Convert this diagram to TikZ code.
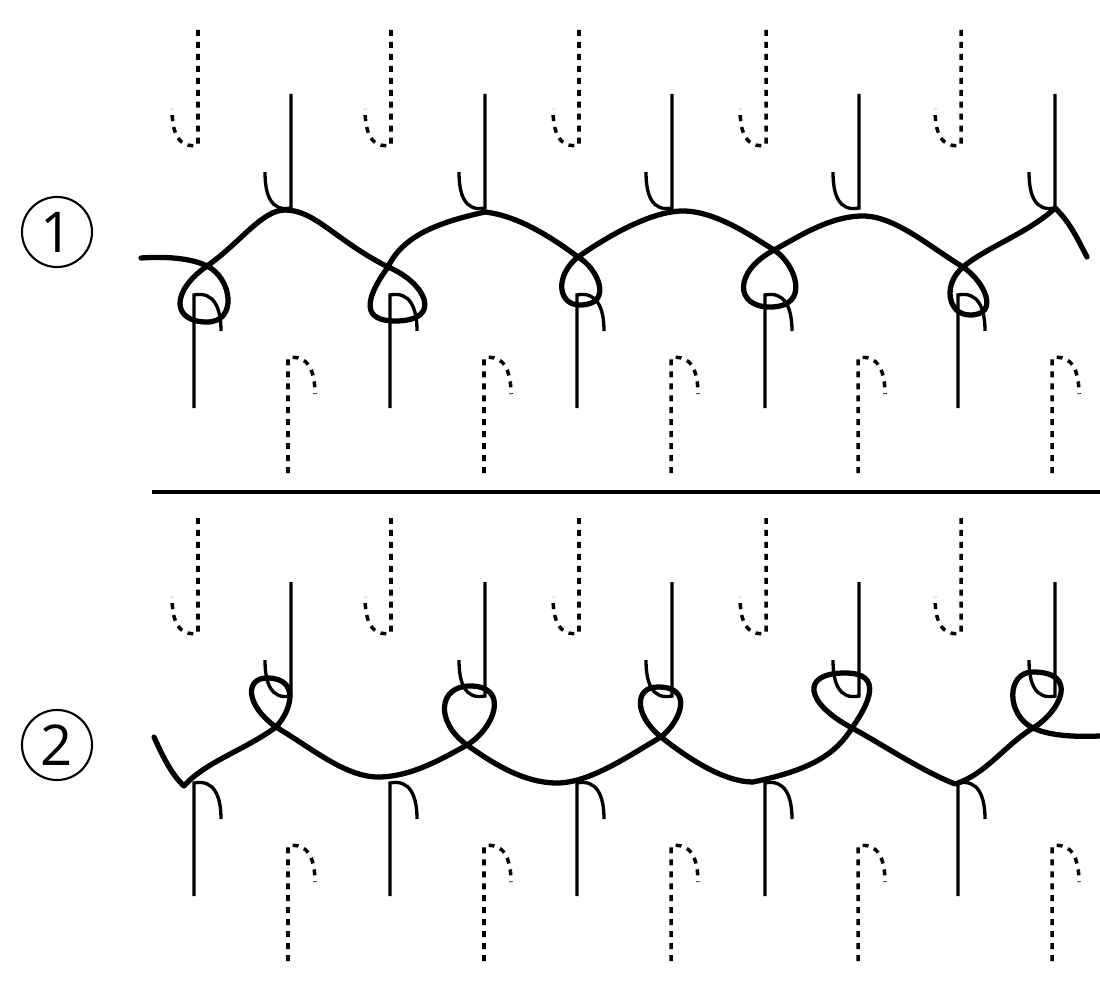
\documentclass[tikz,border=0pt]{standalone}
\usepackage{fontspec}
\setmainfont{Open Sans}
\tikzset{
  strand/.style={line width=1.5pt,line join=round,line cap=round},
  thread/.style={line width=0.95pt},
  ghost/.style={line width=1pt,dash pattern=on 1.7pt off 1.7pt},
  rownum/.style={draw,circle,line width=0.6pt,minimum size=0.7cm,inner sep=0pt,font=\fontsize{16}{16}\selectfont},
}
% hanging hook: foot at the bottom, curl to the left
\newcommand{\hookdown}[4]{\draw[#1] (#2,#3) -- (#2,#4-2) .. controls (#2-20,#4+2) and (#2-26,#4-15) .. (#2-26,#4-38);}
% standing hook: curl to the right
\newcommand{\hookup}[4]{\draw[#1] (#2,#3) -- (#2,#4+2) .. controls (#2+20,#4-2) and (#2+27,#4+15) .. (#2+27,#4+38);}

\begin{document}
\begin{tikzpicture}[x=0.01cm,y=-0.01cm]
    \useasboundingbox (0,0) rectangle (1100,994);

    \node[rownum] (one) at (57,232) {1};
    \node[rownum] (two) at (57,745) {2};

    \coordinate (ruleL) at (152,492);
    \coordinate (ruleR) at (1100,492);
    \draw[thread] (ruleL) -- (ruleR);

    \foreach \dy in {0,488} {
      \foreach \x in {198,391,579,766,961} {\hookdown{ghost}{\x}{30+\dy}{147+\dy}}
      \foreach \x in {291,485,672,859,1055} {\hookdown{thread}{\x}{94+\dy}{210+\dy}}
      \foreach \x in {194,390,577,765,958} {\hookup{thread}{\x}{408+\dy}{293+\dy}}
      \foreach \x in {288,484,671,858,1052} {\hookup{ghost}{\x}{473+\dy}{356+\dy}}
    }

    % upper row
    \draw[strand] (141,258) .. controls (170,256) and (193,259) .. (207,266)
      .. controls (232,278) and (238,322) .. (207,322)
      .. controls (172,322) and (170,292) .. (207,266)
      .. controls (240,243) and (262,210) .. (285,210)
      .. controls (315,210) and (335,240) .. (388,267)
      .. controls (425,282) and (445,321) .. (395,321)
      .. controls (362,321) and (364,300) .. (388,267)
      .. controls (403,235) and (440,222) .. (485,212)
      .. controls (520,216) and (555,240) .. (578,257)
      .. controls (598,268) and (614,305) .. (580,305)
      .. controls (557,305) and (555,275) .. (578,257)
      .. controls (605,238) and (650,211) .. (683,211)
      .. controls (715,211) and (750,235) .. (774,250)
      .. controls (795,263) and (812,307) .. (770,307)
      .. controls (735,307) and (733,272) .. (774,250)
      .. controls (800,236) and (830,216) .. (863,216)
      .. controls (895,216) and (930,247) .. (963,267)
      .. controls (985,282) and (1000,315) .. (970,315)
      .. controls (948,315) and (942,285) .. (963,267)
      .. controls (985,248) and (1030,232) .. (1055,208)
      .. controls (1070,222) and (1078,240) .. (1087,257);

    % lower row
    \draw[strand] (154,737) .. controls (163,757) and (172,775) .. (184,786)
      .. controls (205,762) and (245,750) .. (276,727)
      .. controls (292,710) and (300,678) .. (267,678)
      .. controls (245,678) and (245,705) .. (276,727)
      .. controls (310,747) and (345,777) .. (378,777)
      .. controls (410,777) and (440,760) .. (467,745)
      .. controls (495,728) and (510,686) .. (470,686)
      .. controls (438,686) and (435,722) .. (467,745)
      .. controls (495,765) and (525,783) .. (557,783)
      .. controls (590,783) and (630,755) .. (661,737)
      .. controls (680,722) and (695,687) .. (658,687)
      .. controls (634,687) and (634,715) .. (661,737)
      .. controls (690,760) and (725,782) .. (753,782)
      .. controls (810,770) and (835,755) .. (852,728)
      .. controls (868,705) and (885,673) .. (845,673)
      .. controls (800,673) and (805,703) .. (852,728)
      .. controls (880,743) and (920,770) .. (955,784)
      .. controls (985,775) and (1005,745) .. (1033,728)
      .. controls (1060,712) and (1080,672) .. (1033,672)
      .. controls (1006,672) and (1006,715) .. (1033,728)
      .. controls (1050,736) and (1075,737) .. (1100,736);
\end{tikzpicture}
\end{document}
